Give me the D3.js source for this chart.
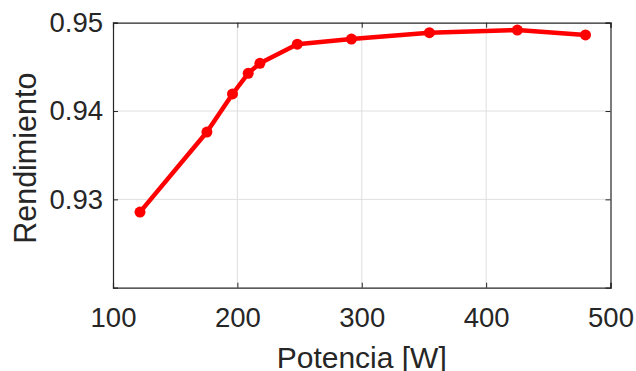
<!DOCTYPE html>
<html><head><meta charset="utf-8">
<script src="https://cdn.jsdelivr.net/npm/d3@7"></script>
<style>body{margin:0;background:#fff}svg{display:block}text{font-family:"Liberation Sans",Arial,Helvetica,sans-serif}</style>
</head><body><svg id="c" width="636" height="371"></svg>
<script>
const potencia = [121.7, 175.5, 196.1, 208.7, 218.1, 248.2, 291.7, 354.4, 425.1, 479.9];
const rendimiento = [0.92856, 0.93762, 0.94193, 0.94427, 0.94540, 0.94757, 0.94815, 0.94887, 0.94917, 0.94861];
const xTicks = [100, 200, 300, 400, 500];
const yTicks = [0.93, 0.94, 0.95];
const xLabel = "Potencia [W]";
const yLabel = "Rendimiento";

const svg = d3.select("#c");
const L = 113, R = 610.5, T = 22.7, B = 287.7;
const x = d3.scaleLinear().domain([100, 500]).range([L, R]);
const y = d3.scaleLinear().domain([0.92, 0.95]).range([B, T]);
const axisCol = "#262626";
const gridCol = "#dfdfdf";

// grid
svg.append("g").selectAll("line").data(xTicks.slice(1, -1)).join("line")
  .attr("x1", d => x(d)).attr("x2", d => x(d)).attr("y1", T).attr("y2", B)
  .attr("stroke", gridCol).attr("stroke-width", 1);
svg.append("g").selectAll("line").data(yTicks.slice(0, -1)).join("line")
  .attr("x1", L).attr("x2", R).attr("y1", d => y(d)).attr("y2", d => y(d))
  .attr("stroke", gridCol).attr("stroke-width", 1);

// axes
const fs = 27.5;
const gx = svg.append("g").attr("transform", `translate(0,${B})`)
  .call(d3.axisBottom(x).tickValues(xTicks).tickSize(-5).tickPadding(20).tickFormat(d3.format("d")));
const gy = svg.append("g").attr("transform", `translate(${L},0)`)
  .call(d3.axisLeft(y).tickValues(yTicks).tickSize(-5).tickPadding(10).tickFormat(d3.format(".2f")));
const gxt = svg.append("g").attr("transform", `translate(0,${T})`)
  .call(d3.axisTop(x).tickValues(xTicks).tickSize(-5).tickFormat(""));
const gyr = svg.append("g").attr("transform", `translate(${R},0)`)
  .call(d3.axisRight(y).tickValues(yTicks).tickSize(-5).tickFormat(""));
[gx, gy, gxt, gyr].forEach(g => {
  g.select(".domain").attr("stroke", axisCol).attr("stroke-width", 1.2);
  g.selectAll(".tick line").attr("stroke", axisCol).attr("stroke-width", 1);
  g.selectAll(".tick text").attr("fill", axisCol).style("font-size", fs + "px")
    .style("font-family", '"Liberation Sans",Arial,sans-serif');
});

// line
const line = d3.line().x((d, i) => x(potencia[i])).y(d => y(d));
svg.append("path").datum(rendimiento).attr("d", line)
  .attr("fill", "none").attr("stroke", "#ff0000").attr("stroke-width", 4.5).attr("stroke-linejoin", "round");
svg.append("g").selectAll("circle").data(rendimiento).join("circle")
  .attr("cx", (d, i) => x(potencia[i])).attr("cy", d => y(d)).attr("r", 5.5).attr("fill", "#ff0000");

// labels
svg.append("text").attr("x", (L + R) / 2).attr("y", 367.5).attr("text-anchor", "middle")
  .attr("fill", axisCol).style("font-size", "30px").text(xLabel);
svg.append("text").attr("transform", `translate(36,${(T + B) / 2 + 3}) rotate(-90)`).attr("text-anchor", "middle")
  .attr("fill", axisCol).style("font-size", "30.5px").text(yLabel);
</script></body></html>
